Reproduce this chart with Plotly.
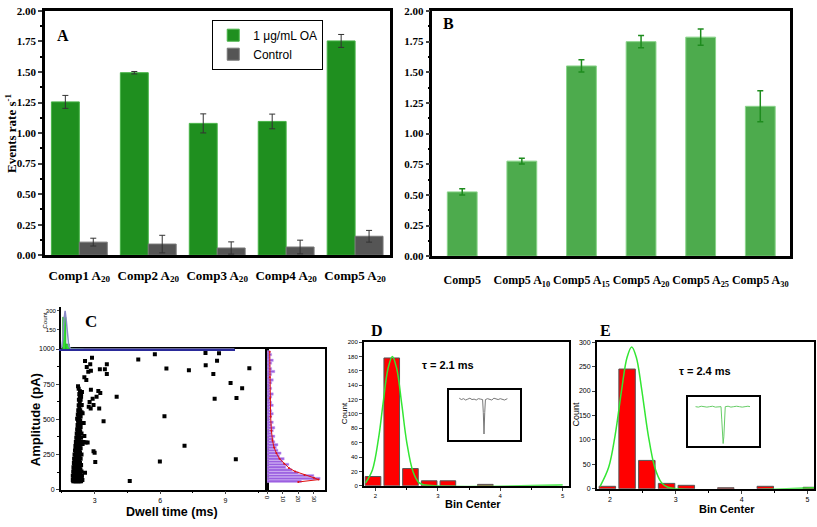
import plotly.graph_objects as go

W, H = 817, 527


def px(x):
    return x / W


def py(y):
    return 1 - y / H


# ---------------- Panel A ----------------
a_categories = ["Comp1 A<sub>20</sub>", "Comp2 A<sub>20</sub>", "Comp3 A<sub>20</sub>",
                "Comp4 A<sub>20</sub>", "Comp5 A<sub>20</sub>"]
a_oa = [1.255, 1.494, 1.079, 1.095, 1.754]
a_oa_err = [0.053, 0.01, 0.078, 0.06, 0.053]
a_ctrl = [0.107, 0.091, 0.059, 0.067, 0.155]
a_ctrl_err = [0.032, 0.072, 0.05, 0.056, 0.048]

# ---------------- Panel B ----------------
b_categories = ["Comp5", "Comp5 A<sub>10</sub>", "Comp5 A<sub>15</sub>",
                "Comp5 A<sub>20</sub>", "Comp5 A<sub>25</sub>", "Comp5 A<sub>30</sub>"]
b_values = [0.524, 0.775, 1.551, 1.749, 1.786, 1.222]
b_err = [0.025, 0.024, 0.05, 0.05, 0.067, 0.126]

# ---------------- Panel C (scatter: dwell time ms, amplitude pA) ----------------
c_points = [
    # dense cluster
    (2.02, 60), (2.08, 60), (2.14, 60), (2.20, 60), (2.26, 60), (2.32, 60), (2.38, 60),
    (2.00, 70), (2.10, 70), (2.18, 70), (2.27, 70), (2.35, 70), (2.44, 70),
    (2.04, 85), (2.12, 85), (2.22, 85), (2.30, 85), (2.40, 85),
    (2.00, 100), (2.08, 100), (2.16, 100), (2.25, 100), (2.33, 100), (2.42, 100),
    (2.05, 115), (2.14, 115), (2.23, 115), (2.36, 115),
    (2.02, 130), (2.10, 130), (2.20, 130), (2.30, 130), (2.40, 130),
    (2.06, 145), (2.15, 145), (2.26, 145), (2.35, 145),
    (2.03, 160), (2.12, 160), (2.21, 160), (2.31, 160),
    (2.08, 175), (2.17, 175), (2.27, 175), (2.38, 175),
    (2.05, 190), (2.14, 190), (2.24, 190), (2.33, 190),
    (2.10, 205), (2.20, 205), (2.29, 205),
    (2.06, 220), (2.16, 220), (2.26, 220), (2.36, 220),
    (2.12, 235), (2.22, 235), (2.31, 235),
    (2.08, 250), (2.18, 250), (2.28, 250), (2.40, 250),
    (2.14, 265), (2.24, 265), (2.33, 265),
    (2.10, 280), (2.20, 280), (2.30, 280),
    (2.15, 295), (2.25, 295), (2.36, 295),
    (2.12, 310), (2.22, 310), (2.32, 310),
    (2.17, 325), (2.27, 325), (2.45, 325),
    (2.14, 340), (2.24, 340), (2.35, 340), (2.50, 340),
    (2.20, 355), (2.30, 355),
    (2.16, 370), (2.26, 370), (2.38, 370),
    (2.21, 385), (2.31, 385),
    (2.18, 400), (2.28, 400), (2.40, 400),
    (2.23, 415), (2.34, 415),
    (2.20, 430), (2.30, 430),
    (2.25, 445), (2.36, 445),
    (2.22, 460), (2.32, 460),
    (2.27, 475), (2.40, 475),
    (2.24, 490), (2.34, 490),
    (2.20, 505), (2.30, 505),
    (2.26, 520), (2.36, 520),
    (2.23, 535), (2.32, 535),
    (2.28, 550), (2.40, 550),
    (2.25, 565), (2.34, 565),
    (2.30, 580), (2.27, 600), (2.38, 600),
    (2.32, 620), (2.28, 640), (2.36, 640),
    (2.32, 660), (2.30, 680), (2.38, 680),
    (2.33, 700), (2.27, 718), (2.24, 736),
    # scattered points near the cluster
    (2.88, 938), (2.56, 914), (2.80, 891), (3.56, 891), (3.24, 856), (3.47, 856),
    (3.56, 822), (2.64, 873), (2.71, 838), (2.83, 845), (2.53, 799), (2.62, 780),
    (4.01, 660), (3.17, 701), (3.26, 688), (2.83, 710), (3.09, 660), (2.91, 646),
    (2.77, 623), (2.95, 602), (2.73, 590), (2.82, 578), (3.21, 578), (3.41, 486),
    (2.95, 273), (3.00, 262), (3.03, 197), (2.68, 335), (2.56, 120), (4.61, 62),
    (2.50, 475), (2.53, 382), (2.45, 544), (2.41, 602), (2.38, 660), (2.42, 694),
    (2.59, 335),
    # far points
    (5.00, 926), (5.76, 963), (6.29, 861), (7.32, 849), (8.08, 972), (8.70, 970),
    (8.61, 917), (8.09, 884), (8.44, 822), (10.09, 863), (9.23, 759), (9.76, 722),
    (8.50, 646), (9.50, 651), (6.20, 523), (7.12, 313), (5.99, 201), (9.47, 217),
]
c_dwell = [p[0] for p in c_points]
c_amp = [p[1] for p in c_points]

# top histogram of dwell time
c_top_bins = [2.10, 2.35, 2.60, 2.85, 3.10, 3.35]
c_top_counts = [250, 40, 6, 4, 3, 1]
c_top_fit_x = [1.90, 2.00, 2.08, 2.16, 2.24, 2.32, 2.42, 2.55, 2.80, 14.3]
c_top_fit_y = [5, 80, 230, 300, 230, 100, 25, 3, 0, 0]

# right histogram of amplitude
c_right_bins = [60, 80, 100, 120, 140, 160, 180, 200, 220, 240, 260, 280, 300, 320,
                340, 360, 380, 400, 420, 440, 460, 480, 500, 520, 540, 560, 580, 600,
                620, 640, 660, 680, 700, 720, 740, 760, 780, 800, 820, 840, 860, 880,
                900, 920, 940, 960, 980]
c_right_counts = [22, 34, 30, 20, 16, 12, 14, 10, 11, 8, 9, 7, 6, 7,
                  5, 4, 5, 3, 4, 5, 3, 4, 2, 3, 4, 3, 2, 4,
                  3, 2, 3, 4, 2, 3, 2, 3, 4, 2, 3, 5, 3, 2,
                  3, 4, 2, 3, 2]
c_right_fit_count = [20, 33, 30, 24, 18, 14, 11, 8, 6, 4.5, 3.5, 2.8, 2.3, 2.0, 1.8, 1.7]
c_right_fit_amp = [55, 72, 85, 105, 130, 155, 185, 220, 260, 300, 350, 420, 520, 650, 800, 980]

# ---------------- Panel D ----------------
d_bins = [1.96, 2.26, 2.56, 2.86, 3.16, 3.76]
d_counts = [13, 178, 24, 7, 7, 2]
d_fit_x = [1.84, 1.95, 2.05, 2.12, 2.20, 2.27, 2.34, 2.42, 2.50, 2.60, 2.70, 2.80, 5.00]
d_fit_y = [4, 22, 67, 114, 163, 180, 163, 114, 61, 20, 4, 1, 1]
d_trace_t = [14, 17, 20, 23, 26, 29, 32, 35, 38, 41, 44, 47, 48, 49, 50, 51,
             54, 57, 60, 63, 66, 69, 72, 75, 78, 82]
d_trace_i = [-8, -11, -9, -12, -10, -8, -11, -10, -12, -9, -10, -11, -40, -87, -40, -11,
             -9, -10, -12, -8, -10, -11, -9, -10, -12, -9]

# ---------------- Panel E ----------------
e_bins = [1.96, 2.26, 2.56, 2.86, 3.16, 3.76, 4.36, 5.06]
e_counts = [5, 245, 58, 11, 7, 2, 5, 3]
e_fit_x = [1.85, 1.98, 2.08, 2.18, 2.26, 2.33, 2.40, 2.48, 2.58, 2.68, 2.78, 2.88, 5.10]
e_fit_y = [5, 44, 111, 205, 269, 290, 269, 205, 111, 44, 13, 3, 2]
e_trace_t = [10, 14, 18, 22, 26, 30, 34, 38, 42, 46, 47, 48, 49, 50, 51, 52,
             56, 60, 64, 68, 72, 76, 80, 84, 87]
e_trace_i = [-12, -13, -11, -12, -13, -12, -11, -13, -12, -12, -40, -80, -95, -80, -40, -12,
             -11, -13, -12, -11, -12, -13, -12, -11, -12]

SERIF = "Liberation Serif, Times New Roman, serif"
SANS = "Liberation Sans, Arial, sans-serif"

fig = go.Figure()

# Panel A bars
fig.add_trace(go.Bar(
    x=a_categories, y=a_oa, name="1 \u03bcg/mL OA", marker=dict(color="#1f8f1f", line=dict(color="#47b347", width=1)),
    error_y=dict(type="data", array=a_oa_err, color="#333333", thickness=1, width=3),
    xaxis="x", yaxis="y", offsetgroup="a1"))
fig.add_trace(go.Bar(
    x=a_categories, y=a_ctrl, name="Control", marker=dict(color="#555555", line=dict(color="#777777", width=1)),
    error_y=dict(type="data", array=a_ctrl_err, color="#333333", thickness=1, width=3),
    xaxis="x", yaxis="y", offsetgroup="a2"))

# Panel B bars
fig.add_trace(go.Bar(
    x=b_categories, y=b_values, showlegend=False, width=0.5,
    marker=dict(color="#4dab4d", line=dict(color="#8ad48a", width=1)),
    error_y=dict(type="data", array=b_err, color="#1e8c1e", thickness=1.5, width=3),
    xaxis="x2", yaxis="y2"))

# Panel C scatter
fig.add_trace(go.Scatter(
    x=c_dwell, y=c_amp, mode="markers", showlegend=False,
    marker=dict(symbol="square", size=4, color="black"),
    xaxis="x3", yaxis="y3"))
# Panel C top histogram
fig.add_trace(go.Bar(
    x=c_top_bins, y=c_top_counts, width=0.25, showlegend=False,
    marker=dict(color="#33dd33", line=dict(color="#229922", width=0.5)),
    xaxis="x4", yaxis="y4"))
fig.add_trace(go.Scatter(
    x=c_top_fit_x, y=c_top_fit_y, mode="lines", showlegend=False,
    line=dict(color="#8a8ac8", width=1.5), xaxis="x4", yaxis="y4"))
# Panel C right histogram
fig.add_trace(go.Bar(
    y=c_right_bins, x=c_right_counts, orientation="h", width=17, showlegend=False,
    marker=dict(color="#9b5fe0", line=dict(color="#c9a8f0", width=0.5)),
    xaxis="x5", yaxis="y5"))
fig.add_trace(go.Scatter(
    x=c_right_fit_count, y=c_right_fit_amp, mode="lines+markers", showlegend=False,
    line=dict(color="#e01010", width=1), marker=dict(size=2, color="#e01010"),
    xaxis="x5", yaxis="y5"))

# Panel D
fig.add_trace(go.Bar(
    x=d_bins, y=d_counts, width=0.25, showlegend=False,
    marker=dict(color="#ff0000", line=dict(color="#555555", width=1)),
    xaxis="x6", yaxis="y6"))
fig.add_trace(go.Scatter(
    x=d_fit_x, y=d_fit_y, mode="lines", line=dict(color="#33e633", width=1.5, shape="spline"),
    showlegend=False, xaxis="x6", yaxis="y6"))
fig.add_trace(go.Scatter(
    x=d_trace_t, y=d_trace_i, mode="lines", line=dict(color="#777777", width=1),
    showlegend=False, xaxis="x7", yaxis="y7"))

# Panel E
fig.add_trace(go.Bar(
    x=e_bins, y=e_counts, width=0.25, showlegend=False,
    marker=dict(color="#ff0000", line=dict(color="#555555", width=1)),
    xaxis="x8", yaxis="y8"))
fig.add_trace(go.Scatter(
    x=e_fit_x, y=e_fit_y, mode="lines", line=dict(color="#33e633", width=1.5, shape="spline"),
    showlegend=False, xaxis="x8", yaxis="y8"))
fig.add_trace(go.Scatter(
    x=e_trace_t, y=e_trace_i, mode="lines", line=dict(color="#66cc66", width=1),
    showlegend=False, xaxis="x9", yaxis="y9"))

frame_thick = dict(showline=True, linecolor="black", linewidth=2.5, mirror=True)
frame_thin = dict(showline=True, linecolor="black", linewidth=1.5, mirror=True)

layout = dict(
    width=W, height=H, autosize=False,
    margin=dict(l=0, r=0, t=0, b=0),
    paper_bgcolor="white", plot_bgcolor="white",
    barmode="group", bargap=0.19, bargroupgap=0,
    showlegend=True,
    legend=dict(x=px(210), y=py(14), xanchor="left", yanchor="top",
                bordercolor="black", borderwidth=1, bgcolor="white",
                font=dict(family=SANS, size=12, color="black"),
                tracegroupgap=0, itemwidth=30),
    # A
    xaxis=dict(domain=[px(42), px(388)], anchor="y", type="category", **frame_thick,
               showgrid=False, ticks="", ticklabelstandoff=6, tickangle=0,
               tickfont=dict(family=SERIF, size=13, color="black", weight="bold")),
    yaxis=dict(domain=[py(255), py(5)], anchor="x", range=[0, 2.0], dtick=0.25, tickformat=".2f",
               **frame_thick, showgrid=False, ticks="outside", ticklen=4, tickwidth=1.5,
               minor=dict(dtick=0.125, ticks="outside", ticklen=2, tickcolor="black"),
               tickfont=dict(family=SERIF, size=11, color="black", weight="bold"), zeroline=False),
    # B
    xaxis2=dict(domain=[px(431), px(790)], anchor="y2", type="category", **frame_thick,
                showgrid=False, ticks="", ticklabelstandoff=11, tickangle=0,
                tickfont=dict(family=SERIF, size=12, color="black", weight="bold")),
    yaxis2=dict(domain=[py(256), py(5)], anchor="x2", range=[0, 2.0], dtick=0.25, tickformat=".2f",
                **frame_thick, showgrid=False, ticks="outside", ticklen=4, tickwidth=1.5,
                minor=dict(dtick=0.125, ticks="outside", ticklen=2, tickcolor="black"),
                tickfont=dict(family=SERIF, size=11, color="black", weight="bold"), zeroline=False),
    # C scatter
    xaxis3=dict(domain=[px(58), px(265)], anchor="y3", range=[1.45, 10.9], tickvals=[3, 6, 9],
                **frame_thin, showgrid=False, zeroline=False, ticks="outside", ticklen=3,
                minor=dict(dtick=1.5, ticks="outside", ticklen=2, tickcolor="black"),
                tickfont=dict(family=SANS, size=7, color="black")),
    yaxis3=dict(domain=[py(495), py(351)], anchor="x3", range=[0, 1000], dtick=250,
                **frame_thin, showgrid=False, zeroline=False, ticks="outside", ticklen=3,
                minor=dict(dtick=125, ticks="outside", ticklen=2, tickcolor="black"),
                tickfont=dict(family=SANS, size=7, color="black")),
    # C top histogram
    xaxis4=dict(domain=[px(58), px(233)], anchor="y4", range=[1.85, 14.35], showline=True,
                linecolor="#2a2a9a", linewidth=2, showticklabels=False, ticks="",
                showgrid=False, zeroline=False),
    yaxis4=dict(domain=[py(351), py(308)], anchor="x4", range=[0, 330], tickvals=[150, 300],
                showline=True, linecolor="black", linewidth=1.5, ticks="outside", ticklen=2,
                showgrid=False, zeroline=False, tickfont=dict(family=SANS, size=6, color="black")),
    # C right histogram
    xaxis5=dict(domain=[px(265), px(323)], anchor="y5", range=[0, 37], tickvals=[0, 10, 20, 30],
                **frame_thin, showgrid=False, zeroline=False, ticks="outside", ticklen=3,
                tickangle=90, tickfont=dict(family=SANS, size=6, color="black")),
    yaxis5=dict(domain=[py(495), py(351)], anchor="x5", range=[0, 1000], showticklabels=False,
                **frame_thin, showgrid=False, zeroline=False, ticks=""),
    # D
    xaxis6=dict(domain=[px(362), px(568)], anchor="y6", range=[1.81, 5.1], dtick=1,
                **frame_thin, showgrid=False, zeroline=False, ticks="outside", ticklen=3,
                minor=dict(dtick=0.5, ticks="outside", ticklen=2, tickcolor="black"),
                tickfont=dict(family=SANS, size=6, color="black")),
    yaxis6=dict(domain=[py(491), py(344)], anchor="x6", range=[0, 200], dtick=20,
                **frame_thin, showgrid=False, zeroline=False, ticks="outside", ticklen=3,
                tickfont=dict(family=SANS, size=6, color="black")),
    xaxis7=dict(domain=[px(448), px(519)], anchor="y7", range=[0, 100], **frame_thin,
                showticklabels=False, ticks="", showgrid=False, zeroline=False),
    yaxis7=dict(domain=[py(444), py(393)], anchor="x7", range=[-100, 10], **frame_thin,
                showticklabels=False, ticks="", showgrid=False, zeroline=False),
    # E
    xaxis8=dict(domain=[px(596), px(814)], anchor="y8", range=[1.8, 5.1], dtick=1,
                **frame_thin, showgrid=False, zeroline=False, ticks="outside", ticklen=3,
                minor=dict(dtick=0.5, ticks="outside", ticklen=2, tickcolor="black"),
                tickfont=dict(family=SANS, size=7, color="black")),
    yaxis8=dict(domain=[py(494), py(344)], anchor="x8", range=[0, 300], dtick=50,
                **frame_thin, showgrid=False, zeroline=False, ticks="outside", ticklen=3,
                tickfont=dict(family=SANS, size=7, color="black")),
    xaxis9=dict(domain=[px(688), px(759)], anchor="y9", range=[0, 100], **frame_thin,
                showticklabels=False, ticks="", showgrid=False, zeroline=False),
    yaxis9=dict(domain=[py(450), py(400)], anchor="x9", range=[-100, 10], **frame_thin,
                showticklabels=False, ticks="", showgrid=False, zeroline=False),
)
fig.update_layout(**layout)


def label(text, x, y, size, family=SERIF, angle=0, bold=True, color="black"):
    fig.add_annotation(text=f"<b>{text}</b>" if bold else text, x=px(x), y=py(y),
                       xref="paper", yref="paper", showarrow=False, textangle=angle,
                       font=dict(family=family, size=size, color=color),
                       xanchor="center", yanchor="middle")


label("A", 60, 30, 16)
label("B", 447, 18, 16)
label("C", 88, 323, 17)
label("D", 375, 332, 16)
label("E", 605, 332, 16)
label("Events rate s<sup>-1</sup>", 8, 130, 13, angle=-90)
label("Amplitude (pA)", 32, 423, 13, family=SANS, angle=-90)
label("Dwell time (ms)", 170, 518, 12.5, family=SANS)
label("Count", 42, 322, 6, family=SANS, angle=-90, bold=False)
label("Count", 343, 417, 8, family=SANS, angle=-90, bold=False)
label("Bin Center", 472, 510, 11, family=SANS)
label("\u03c4 = 2.1 ms", 447, 367, 11, family=SANS)
label("Count", 575, 417, 9, family=SANS, angle=-90, bold=False)
label("Bin Center", 727, 515, 11, family=SANS)
label("\u03c4 = 2.4 ms", 705, 374, 11, family=SANS)

fig.write_html("out.html", config={"displayModeBar": False},
               post_script="document.body.style.margin='0';document.body.style.padding='0';")
